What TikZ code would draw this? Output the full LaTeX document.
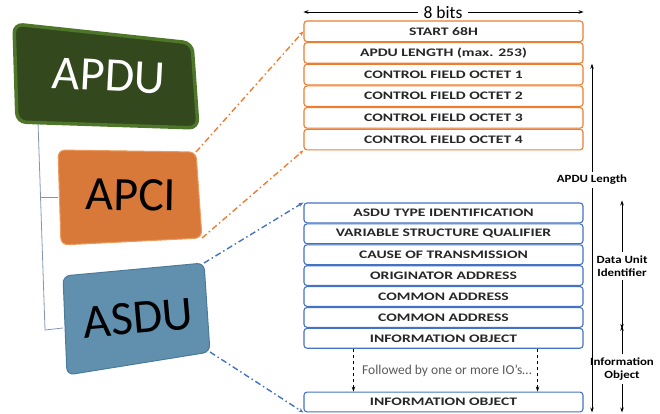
\documentclass[tikz,border=0pt]{standalone}
\usepackage{fontspec}
\setsansfont{Carlito}
\newfontfamily\rowfont[FakeStretch=1.36]{Carlito}
\newfontfamily\labfont[FakeStretch=1.17]{Carlito}
\usetikzlibrary{arrows.meta, positioning, calc}

\definecolor{iecorange}{HTML}{ED7D31}
\definecolor{iecblue}{HTML}{4472C4}
\definecolor{apdugreen}{HTML}{33491D}
\definecolor{apdurim}{HTML}{4E7629}
\definecolor{apcifill}{HTML}{D8793A}
\definecolor{apcirim}{HTML}{EC9A5E}
\definecolor{asdufill}{HTML}{6190AE}
\definecolor{asdurim}{HTML}{4C7B9A}
\definecolor{treeline}{HTML}{8496B4}

\begin{document}
\begin{tikzpicture}[x=1pt, y=-1pt, font=\sffamily,
  orow/.style={draw=iecorange, line width=1.1pt, rounded corners=3pt,
    minimum width=279pt, minimum height=20.6pt, inner sep=0pt,
    text=black!85, font=\rowfont\bfseries\fontsize{11.5}{13}\selectfont},
  brow/.style={orow, draw=iecblue, minimum height=19.8pt},
  rlab/.style={align=center, inner sep=3pt,
    font=\labfont\bfseries\fontsize{11}{13.5}\selectfont},
  blk/.style={-{Stealth[length=5pt, width=3.5pt]}, line width=0.8pt},
  dsh/.style={blk, dashed},
  odash/.style={draw=iecorange, line width=1.4pt,
    dash pattern=on 6pt off 3pt on 1.5pt off 3pt, -{Stealth[length=5pt]}},
  bdash/.style={odash, draw=iecblue},
  big/.style={font=\sffamily\fontsize{48}{48}\selectfont}]

  \useasboundingbox (0,0) rectangle (660,414);

  % Kotak kiri (APDU, APCI, ASDU)
  \coordinate (apdu-tl) at (14,24);  \coordinate (apdu-tr) at (192,43);
  \coordinate (apdu-br) at (198,128); \coordinate (apdu-bl) at (17,122);
  \coordinate (apci-tl) at (58,150); \coordinate (apci-tr) at (196,152);
  \coordinate (apci-br) at (202,238); \coordinate (apci-bl) at (61,245);
  \coordinate (asdu-tl) at (63,276); \coordinate (asdu-tr) at (204,263);
  \coordinate (asdu-br) at (210,352); \coordinate (asdu-bl) at (67,375);

  % Garis pohon
  \coordinate (t0) at (38,122);  \coordinate (t1) at (40,197);
  \coordinate (t2) at (45,330);
  \draw[treeline, line width=0.8pt] (t0) -- (t2) -- (asdu-tl |- 0,328);
  \draw[treeline, line width=0.8pt] (t1) -- (apci-tl |- t1);

  \draw[apdurim, fill=apdugreen, line width=3.5pt, rounded corners=9pt]
    (apdu-tl) -- (apdu-tr) -- (apdu-br) -- (apdu-bl) -- cycle;
  \draw[apcirim, fill=apcifill, line width=1pt, rounded corners=7pt]
    (apci-tl) -- (apci-tr) -- (apci-br) -- (apci-bl) -- cycle;
  \draw[asdurim, fill=asdufill, line width=1pt, rounded corners=7pt]
    (asdu-tl) -- (asdu-tr) -- (asdu-br) -- (asdu-bl) -- cycle;

  \node[big, white, rotate=-3] (apdu) at (109,76) {APDU};
  \node[big, rotate=-1] (apci) at (131,195) {APCI};
  \node[big, rotate=5] (asdu) at (138,318) {ASDU};

  % Baris APCI
  \foreach \t [count=\i] in {START 68H, APDU LENGTH (max. 253),
      CONTROL FIELD OCTET 1, CONTROL FIELD OCTET 2,
      CONTROL FIELD OCTET 3, CONTROL FIELD OCTET 4} {
    \node[orow] (o\i) at (443.5, 31.3+21.65*\i-21.65) {\t};
  }

  % Baris ASDU
  \foreach \t [count=\i] in {ASDU TYPE IDENTIFICATION,
      VARIABLE STRUCTURE QUALIFIER, CAUSE OF TRANSMISSION,
      ORIGINATOR ADDRESS, COMMON ADDRESS, COMMON ADDRESS,
      INFORMATION OBJECT} {
    \node[brow] (b\i) at (443.5, 212.9+20.9*\i-20.9) {\t};
  }
  \node[brow] (b8) at (443.5,402) {INFORMATION OBJECT};

  \node[text=black!65, font=\sffamily\fontsize{13.5}{15}\selectfont] (more)
    at (447,371) {Followed by one or more IO’s…};
  \draw[dsh] ([xshift=50pt]b7.south west) -- ([xshift=50pt]b8.north west);
  \draw[dsh] ([xshift=-46pt]b7.south east) -- ([xshift=-46pt]b8.north east);

  % 8 bits
  \node[font=\sffamily\fontsize{17.5}{20}\selectfont, inner sep=5pt] (bits)
    at (443,12) {8 bits};
  \draw[blk] (bits.west) -- (bits.west -| o1.west);
  \draw[blk] (bits.east) -- (bits.east -| o1.east);

  % Panah kanan
  \node[rlab] (alen) at (592,180) {APDU Length};
  \draw[blk] (alen.north) -- (alen.north |- o3.north);
  \draw[blk] (alen.south) -- (alen.south |- b8.south);

  \node[rlab] (dui) at (622,266) {Data Unit\\Identifier};
  \draw[blk] (dui.north) -- ([yshift=2pt]dui.north |- b1.north);
  \draw[blk] (dui.south) -- ([yshift=-1pt]dui.south |- b7.north);

  \node[rlab] (iol) at (622,369) {Information\\Object};
  \draw[blk] (iol.north) -- ([yshift=2pt]iol.north |- b7.north);
  \draw[blk] (iol.south) -- (iol.south |- b8.south);

  % Penghubung titik-garis
  \draw[odash] (apci-tr) -- (o1.west);
  \draw[odash] (apci-br) -- (o6.south west);
  \draw[bdash] (asdu-tr) -- (b1.north west);
  \draw[bdash] (asdu-br) -- (b8.south west);
\end{tikzpicture}
\end{document}
